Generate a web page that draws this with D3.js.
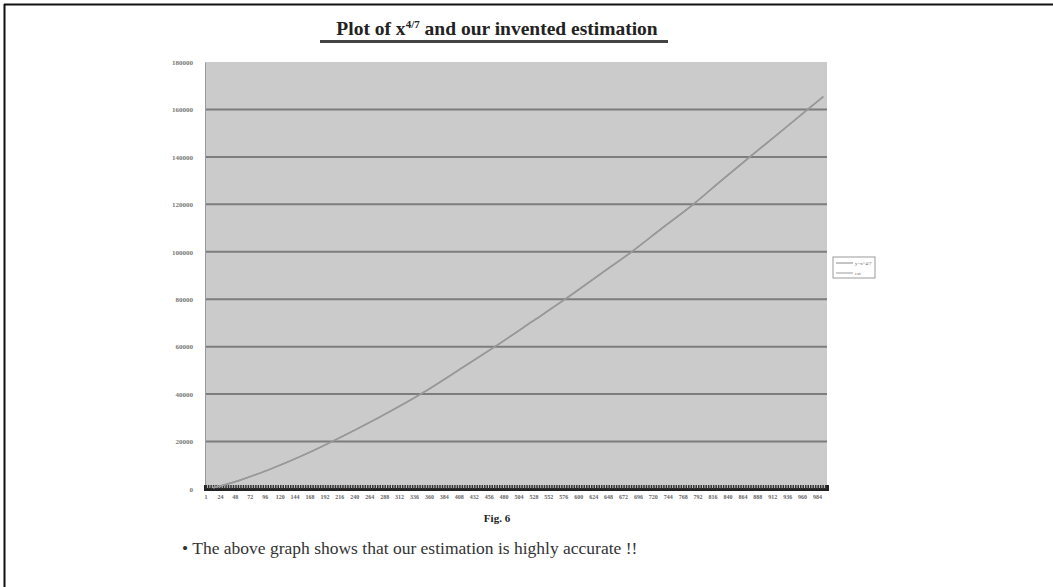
<!DOCTYPE html>
<html>
<head>
<meta charset="utf-8">
<script src="https://cdn.jsdelivr.net/npm/d3@7"></script>
<style>
  body { margin: 0; background: #fff; }
  svg { display: block; }
</style>
</head>
<body>
<div id="chart"></div>
<script>
//x positions of points (category axis, 0..1000)
var xValues = [13, 55, 105, 160, 204, 280, 350, 410, 466, 525, 579, 635, 686, 735, 785, 830, 876, 925, 969, 994];
//y = x^(4/7) series
var powerValues = [500, 3600, 8400, 14500, 20000, 30200, 40500, 50500, 60000, 70400, 80000, 90500, 100000, 110000, 120000, 130000, 140000, 150500, 160000, 165400];
//our estimation, sits on top of the first series
var estValues = [500, 3600, 8400, 14500, 20000, 30200, 40500, 50500, 60000, 70400, 80000, 90500, 100000, 110000, 120000, 130000, 140000, 150500, 160000, 165400];

var seriesNames = ["y=x^4/7", "est"];
var yTicks = [0, 20000, 40000, 60000, 80000, 100000, 120000, 140000, 160000, 180000];
var xTickLabels = [1, 24, 48, 72, 96, 120, 144, 168, 192, 216, 240, 264, 288, 312, 336, 360, 384, 408, 432, 456, 480,
  504, 528, 552, 576, 600, 624, 648, 672, 696, 720, 744, 768, 792, 816, 840, 864, 888, 912, 936, 960, 984];

var width = 1053, height = 587;
var margin = { top: 62, right: 226, bottom: 98, left: 205 };
var innerWidth = width - margin.left - margin.right;
var innerHeight = height - margin.top - margin.bottom;

var svg = d3.select("#chart").append("svg")
  .attr("width", width)
  .attr("height", height);

//page frame (top and left edges)
svg.append("line").attr("x1", 4).attr("x2", width).attr("y1", 4.5).attr("y2", 4.5)
  .style("stroke", "#111").style("stroke-width", 2);
svg.append("line").attr("x1", 4.5).attr("x2", 4.5).attr("y1", 4).attr("y2", height)
  .style("stroke", "#111").style("stroke-width", 2);

//title with superscript
var title = svg.append("text")
  .attr("x", 497).attr("y", 35)
  .attr("text-anchor", "middle")
  .style("font-family", "'Liberation Serif', 'DejaVu Serif', serif")
  .style("font-weight", "bold")
  .style("font-size", "19.5px")
  .style("fill", "#222");
title.append("tspan").text("Plot of x");
title.append("tspan").attr("dy", -7).style("font-size", "11px").text("4/7");
title.append("tspan").attr("dy", 7).text(" and our invented estimation");

svg.append("rect")
  .attr("x", 320).attr("y", 40).attr("width", 348).attr("height", 3)
  .attr("fill", "#444");

var g = svg.append("g")
  .attr("transform", "translate(" + margin.left + "," + margin.top + ")");

var x = d3.scaleLinear().domain([0, 1000]).range([0, innerWidth]);
var y = d3.scaleLinear().domain([0, 180000]).range([innerHeight, 0]);

//plot area
g.append("rect")
  .attr("width", innerWidth)
  .attr("height", innerHeight)
  .attr("fill", "#cbcbcb");

//gridlines
g.selectAll(".grid")
  .data(yTicks.slice(1, yTicks.length - 1))
  .enter()
  .append("line")
  .attr("class", "grid")
  .attr("x1", 0).attr("x2", innerWidth)
  .attr("y1", function(d) { return y(d); })
  .attr("y2", function(d) { return y(d); })
  .style("stroke", "#7d7d7d")
  .style("stroke-width", 2);

//y axis
var yAxis = d3.axisLeft(y).tickValues(yTicks).tickSize(0).tickPadding(12)
  .tickFormat(d3.format("d"));
var yG = g.append("g").call(yAxis);
yG.select(".domain").style("stroke", "#999");
yG.selectAll("text")
  .style("font-family", "'Liberation Serif', serif")
  .style("font-size", "7px")
  .style("font-weight", "bold")
  .style("fill", "#777");

//x axis: dense category ticks make the dark band
var xAxis = d3.axisBottom(x)
  .tickValues(d3.range(1, 1000, 4))
  .tickSize(-4)
  .tickFormat("");
var xG = g.append("g")
  .attr("transform", "translate(0," + innerHeight + ")")
  .call(xAxis);
xG.select(".domain").style("stroke", "#222").style("stroke-width", 3);
xG.selectAll(".tick line").style("stroke", "#333").style("stroke-width", 1.5);

var xLabels = d3.axisBottom(x).tickValues(xTickLabels).tickSize(0).tickPadding(6)
  .tickFormat(d3.format("d"));
var xlG = g.append("g")
  .attr("transform", "translate(0," + innerHeight + ")")
  .call(xLabels);
xlG.select(".domain").remove();
xlG.selectAll("text")
  .style("font-family", "'Liberation Serif', serif")
  .style("font-size", "6px")
  .style("font-weight", "bold")
  .style("fill", "#666");

//lines
var line = d3.line()
  .x(function(d) { return x(d[0]); })
  .y(function(d) { return y(d[1]); })
  .curve(d3.curveMonotoneX);

var series = [
  { name: seriesNames[0], values: d3.zip(xValues, powerValues), color: "#8a8a8a" },
  { name: seriesNames[1], values: d3.zip(xValues, estValues), color: "#9a9a9a" }
];

g.selectAll(".series")
  .data(series)
  .enter()
  .append("path")
  .attr("class", "series")
  .attr("d", function(d) { return line(d.values); })
  .style("fill", "none")
  .style("stroke", function(d) { return d.color; })
  .style("stroke-width", 1.5);

//legend
var legend = svg.append("g").attr("transform", "translate(833,257)");
legend.append("rect")
  .attr("width", 42).attr("height", 21)
  .attr("fill", "#fff")
  .style("stroke", "#999");
legend.selectAll(".leg")
  .data(series)
  .enter()
  .append("line")
  .attr("x1", 3).attr("x2", 20)
  .attr("y1", function(d, i) { return 6 + i * 10; })
  .attr("y2", function(d, i) { return 6 + i * 10; })
  .style("stroke", function(d) { return d.color; });
legend.selectAll(".legtext")
  .data(series)
  .enter()
  .append("text")
  .attr("x", 22)
  .attr("y", function(d, i) { return 8 + i * 10; })
  .text(function(d) { return d.name; })
  .style("font-family", "'Liberation Serif', serif")
  .style("font-size", "5px")
  .style("fill", "#666");

//caption
svg.append("text")
  .attr("x", 497).attr("y", 522)
  .attr("text-anchor", "middle")
  .style("font-family", "'Liberation Serif', serif")
  .style("font-weight", "bold")
  .style("font-size", "11px")
  .style("fill", "#222")
  .text("Fig. 6");

svg.append("text")
  .attr("x", 182).attr("y", 554)
  .style("font-family", "'Liberation Serif', serif")
  .style("font-size", "17.5px")
  .style("fill", "#333")
  .text("\u2022 The above graph shows that our estimation is highly accurate !!");
</script>
</body>
</html>
